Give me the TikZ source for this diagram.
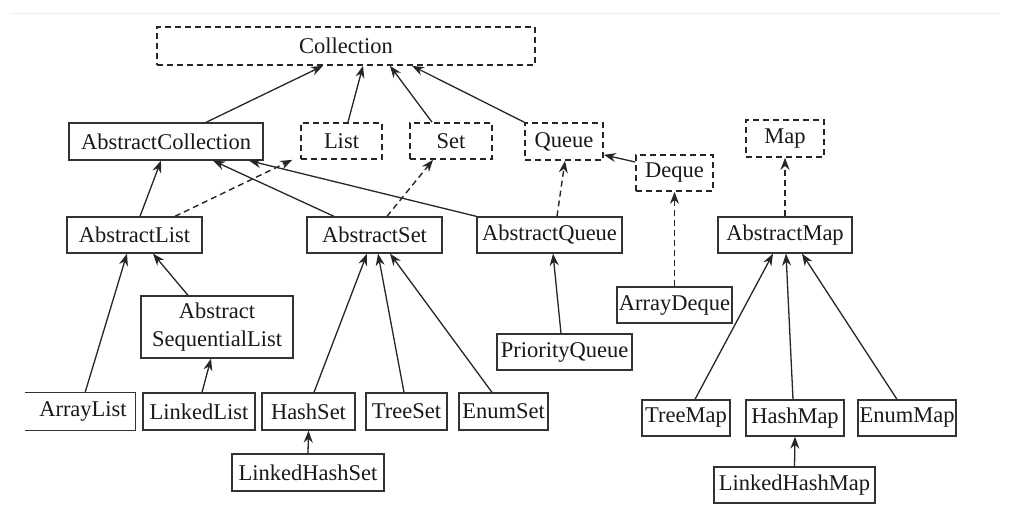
\documentclass[tikz,border=0pt]{standalone}
\usepackage{fontspec}
\setmainfont{Liberation Serif}
\usetikzlibrary{arrows.meta}
\tikzset{
  base/.style={rectangle, inner sep=0pt, font=\fontsize{22.5}{28}\selectfont, text=black!90, align=center},
  cls/.style={base, draw=black!80, line width=1.3pt},
  ifc/.style={base, draw=black!85, line width=1.7pt, dash pattern=on 6pt off 4pt},
  bare/.style={base, draw=none},
  inh/.style={draw=black!85, line width=1.3pt, -{Stealth[length=12pt,width=9pt]}},
  impl/.style={draw=black!85, line width=1.4pt, dash pattern=on 6pt off 4pt, -{Stealth[length=12pt,width=9pt]}},
}
\begin{document}
\begin{tikzpicture}[x=1pt,y=-1pt]
\useasboundingbox (0,0) rectangle (1028,532);
\fill[white] (0,0) rectangle (1028,532);
\coordinate (gl) at (10,14);
\coordinate (gr) at (1000,14);
\draw[black!7, line width=1pt] (gl) -- (gr);

% interfaces
\node[ifc, minimum width=378pt, minimum height=38pt] (coll) at (346,46) {Collection};
\node[ifc, minimum width=81pt, minimum height=36pt] (list) at (341.5,141) {List};
\node[ifc, minimum width=82pt, minimum height=36pt] (set) at (451,141) {Set};
\node[ifc, minimum width=78pt, minimum height=37pt] (queue) at (564,141.5) {Queue};
\node[ifc, minimum width=77pt, minimum height=36pt] (deque) at (674.5,173) {Deque};
\node[ifc, minimum width=78pt, minimum height=37pt] (map) at (785,138.5) {Map};

% abstract classes
\node[cls, minimum width=194pt, minimum height=37pt] (ac) at (166,141.5) {AbstractCollection};
\node[cls, minimum width=135pt, minimum height=36pt] (al) at (134.5,235) {AbstractList};
\node[cls, minimum width=135pt, minimum height=36pt] (as) at (374.5,235) {AbstractSet};
\node[cls, minimum width=145pt, minimum height=36pt] (aq) at (549.5,235) {AbstractQueue};
\node[cls, minimum width=134pt, minimum height=36pt] (am) at (785,235) {AbstractMap};
\node[cls, minimum width=152pt, minimum height=62pt] (asl) at (217,327) {Abstract\\SequentialList};

% concrete classes
\node[bare, minimum width=110pt, minimum height=37pt] (arl) at (80,411.5) {\hspace*{6pt}ArrayList};
\draw[black!80, line width=1.3pt] (arl.north west) -- (arl.north east) -- (arl.south east) -- (arl.south west);
\node[cls, minimum width=112pt, minimum height=37pt] (ll) at (199,411.5) {LinkedList};
\node[cls, minimum width=93pt, minimum height=37pt] (hs) at (308.5,411.5) {HashSet};
\node[cls, minimum width=81pt, minimum height=37pt] (ts) at (406.5,411.5) {TreeSet};
\node[cls, minimum width=89pt, minimum height=37pt] (es) at (503.5,411.5) {EnumSet};
\node[cls, minimum width=152pt, minimum height=37pt] (lhs) at (308,472.5) {LinkedHashSet};
\node[cls, minimum width=115pt, minimum height=36pt] (ad) at (674.5,305) {ArrayDeque};
\node[cls, minimum width=135pt, minimum height=36pt] (pq) at (564.5,352) {PriorityQueue};
\node[cls, minimum width=88pt, minimum height=36pt] (tm) at (686,418) {TreeMap};
\node[cls, minimum width=98pt, minimum height=36pt] (hm) at (795,418) {HashMap};
\node[cls, minimum width=98pt, minimum height=36pt] (em) at (907,418) {EnumMap};
\node[cls, minimum width=161pt, minimum height=36pt] (lhm) at (794.5,485) {LinkedHashMap};

% connectors to Collection
\draw[inh] ([xshift=40pt]ac.north) -- ([xshift=-23pt]coll.south);
\draw[inh] ([xshift=6.5pt]list.north) -- ([xshift=17pt]coll.south);
\draw[inh] ([xshift=-19pt]set.north) -- ([xshift=44pt]coll.south);
\draw[inh] (queue.north west) -- ([xshift=66pt]coll.south);
\draw[inh] ([yshift=11pt]deque.west) -- ([yshift=6pt]queue.south east);

% second level
\draw[inh] ([xshift=5.5pt]al.north) -- ([xshift=-5pt]ac.south);
\draw[impl] ([xshift=40.5pt]al.north) -- ([xshift=-8pt]list.south west);
\draw[inh] ([xshift=-40.5pt]as.north) -- ([xshift=47pt]ac.south);
\draw[inh] (aq.north west) -- ([xshift=83pt]ac.south);
\draw[impl] ([xshift=12.5pt]as.north) -- ([xshift=-18pt]set.south);
\draw[impl] ([xshift=7.5pt]aq.north) -- ([xshift=1pt]queue.south);
\draw[impl] (ad.north) -- (deque.south);
\draw[impl] (am.north) -- (map.south);

% lower levels
\draw[inh] ([xshift=5pt]arl.north) -- ([xshift=-7.5pt]al.south);
\draw[inh] ([xshift=-29pt]asl.north) -- ([xshift=18.5pt]al.south);
\draw[inh] ([xshift=3pt]ll.north) -- ([xshift=-6pt]asl.south);
\draw[inh] ([xshift=5.5pt]hs.north) -- ([xshift=-7.5pt]as.south);
\draw[inh] ([xshift=-2.5pt]ts.north) -- ([xshift=3.5pt]as.south);
\draw[inh] ([xshift=-11.5pt]es.north) -- ([xshift=15.5pt]as.south);
\draw[inh] (lhs.north) -- (hs.south);
\draw[inh] ([xshift=-3.5pt]pq.north) -- ([xshift=3.5pt]aq.south);
\draw[inh] ([xshift=9pt]tm.north) -- ([xshift=-12pt]am.south);
\draw[inh] ([xshift=-2pt]hm.north) -- ([xshift=1pt]am.south);
\draw[inh] ([xshift=-10pt]em.north) -- ([xshift=17pt]am.south);
\draw[inh] (lhm.north) -- (hm.south);
\end{tikzpicture}
\end{document}
